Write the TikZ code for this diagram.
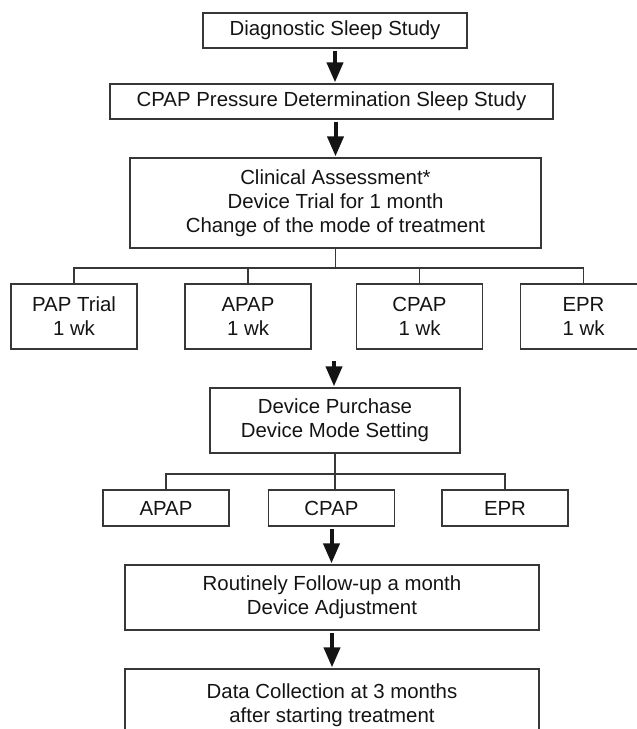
\documentclass[tikz,border=0pt]{standalone}
\usepackage{fontspec}
\setmainfont{Liberation Sans}
\usetikzlibrary{arrows.meta}
\definecolor{frame}{RGB}{55,55,55}
\definecolor{ink}{RGB}{20,20,20}
\tikzset{stage/.style={draw=frame,line width=.65pt,inner sep=0pt,align=center,text=ink,font=\fontsize{10.2}{12}\selectfont},
 flow/.style={draw=ink,line width=2pt,shorten <=1pt,shorten >=.5pt,-{Triangle[width=8pt,length=10pt]}},
 bus/.style={draw=frame,line width=.65pt}}

\begin{document}
\begin{tikzpicture}[x=.5pt,y=-.5pt]
\path[use as bounding box] (0,0) rectangle (637,729);
\clip (0,0) rectangle (637,729);
\node[stage,minimum width=132pt,minimum height=17.5pt] (diag) at (335,30.5) {Diagnostic Sleep Study};
\node[stage,minimum width=221.5pt,minimum height=17.5pt] (titr) at (331.5,101.5) {CPAP Pressure Determination Sleep Study};
\node[stage,minimum width=205.5pt,minimum height=45pt] (assess) at (335.5,203) {Clinical Assessment*\\Device Trial for 1 month\\Change of the mode of treatment};
\node[stage,minimum width=63pt,minimum height=32.5pt] (trialpap) at (74,316.5) {PAP Trial\\1 wk};
\node[stage,minimum width=63pt,minimum height=32.5pt] (trialapap) at (248,316.5) {APAP\\1 wk};
\node[stage,minimum width=63pt,minimum height=32.5pt] (trialcpap) at (419.5,316.5) {CPAP\\1 wk};
\node[stage,minimum width=63pt,minimum height=32.5pt] (trialepr) at (583.5,316.5) {EPR\\1 wk};
\node[stage,minimum width=125pt,minimum height=32.5pt] (purch) at (335,420.5) {Device Purchase\\Device Mode Setting};
\node[stage,minimum width=63pt,minimum height=18pt] (setapap) at (166,508) {APAP};
\node[stage,minimum width=63pt,minimum height=18pt] (setcpap) at (331.5,508) {CPAP};
\node[stage,minimum width=63pt,minimum height=18pt] (setepr) at (505,508) {EPR};
\node[stage,minimum width=207pt,minimum height=32.5pt] (follow) at (332,597.5) {Routinely Follow-up a month\\Device Adjustment};
\node[stage,minimum width=207pt,minimum height=36pt] (data) at (332,705) {Data Collection at 3 months\\after starting treatment};
\coordinate (busA) at (335.5,268);
\coordinate (busB) at (335,474);
\coordinate (gapA) at (334,359);
\draw[bus] (assess.south) -- (busA);
\draw[bus] (trialpap.north) |- (busA) -| (trialepr.north);
\draw[bus] (trialapap.north) -- (trialapap.north |- busA);
\draw[bus] (trialcpap.north) -- (trialcpap.north |- busA);
\draw[bus] (purch.south) -- (purch.south |- setcpap.north);
\draw[bus] (setapap.north) |- (busB) -| (setepr.north);
\draw[flow] (diag.south) -- (diag.south |- titr.north);
\draw[flow] (assess.north |- titr.south) -- (assess.north);
\draw[flow] (gapA) -- (gapA |- purch.north);
\draw[flow] (setcpap.south) -- (setcpap.south |- follow.north);
\draw[flow] (follow.south) -- (follow.south |- data.north);
\end{tikzpicture}
\end{document}
